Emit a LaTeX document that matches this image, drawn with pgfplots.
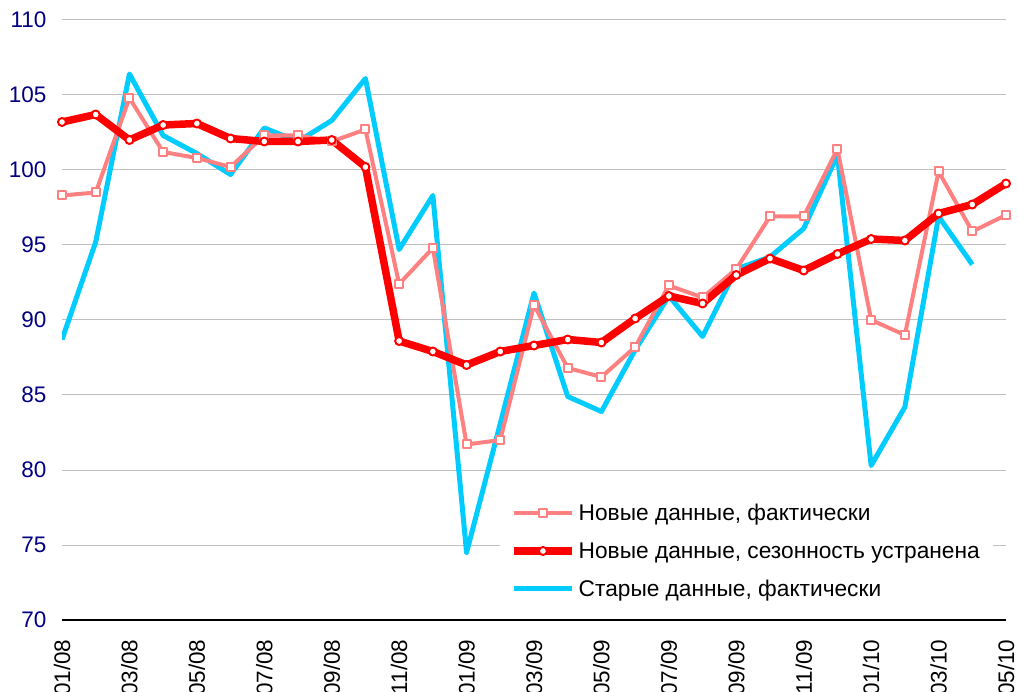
\documentclass[border=0pt]{standalone}
\usepackage{fontspec}
\setmainfont{Liberation Sans}
\usepackage{pgfplots}
\pgfplotsset{compat=1.18}
\definecolor{cpink}{RGB}{255,128,128}
\definecolor{cred}{RGB}{255,0,0}
\definecolor{ccyan}{RGB}{0,204,255}
\definecolor{cnavy}{RGB}{0,0,128}
\definecolor{cgrid}{RGB}{192,192,192}
\begin{document}
\begin{tikzpicture}
\begin{axis}[
 at={(0,0)}, anchor=south west,
 scale only axis, width=944bp, height=600bp,
 xmin=0, xmax=28, ymin=70, ymax=110,
 ytick={70,75,...,110},
 xtick={0,2,...,28},
 xticklabels={01/08,03/08,05/08,07/08,09/08,11/08,01/09,03/09,05/09,07/09,09/09,11/09,01/10,03/10,05/10},
 major tick length=0pt,
 axis line style={draw=none},
 ymajorgrids, grid style={cgrid, line width=1bp},
 /pgf/number format/assume math mode=true,
 tick label style={font=\fontsize{22.5bp}{27bp}\selectfont},
 y tick label style={text=cnavy},
 yticklabel shift=12bp,
 x tick label style={rotate=90, anchor=east},
 xticklabel shift=16bp,
 legend style={at={(0.464,0.207)}, anchor=north west, draw=none, fill=white,
   font=\fontsize{22.7bp}{27bp}\selectfont, row sep=16.5bp, inner xsep=10bp, inner ysep=6bp,
   nodes={inner xsep=3bp}},
 legend cell align=left,
 legend image code/.code={\draw[mark repeat=2,mark phase=2,#1] plot coordinates {(0bp,0bp) (29bp,0bp) (58bp,0bp)};},
 line join=round,
]
\addlegendimage{cpink, line width=4bp, mark=square*, mark size=4bp, mark options={fill=white, draw=cpink, line width=2bp, solid}}
\addlegendentry{Новые данные, фактически}
\addlegendimage{cred, line width=7.5bp, mark=*, mark size=4bp, mark options={fill=white, draw=cred, line width=2bp, solid}}
\addlegendentry{Новые данные, сезонность устранена}
\addlegendimage{ccyan, line width=5bp}
\addlegendentry{Старые данные, фактически}

\addplot[forget plot, ccyan, line width=5bp] coordinates {
(0,88.7) (1,95.2) (2,106.4) (3,102.3) (4,101.1) (5,99.7) (6,102.8) (7,101.9) (8,103.3) (9,106.1)
(10,94.7) (11,98.3) (12,74.5) (13,83.1) (14,91.8) (15,84.9) (16,83.9) (17,88.0) (18,91.6) (19,88.9)
(20,93.4) (21,94.2) (22,96.1) (23,101.0) (24,80.3) (25,84.2) (26,96.9) (27,93.7)};

\addplot[forget plot, cpink, line width=4bp, mark=square*, mark size=4bp, mark options={fill=white, draw=cpink, line width=2bp, solid}] coordinates {
(0,98.3) (1,98.5) (2,104.8) (3,101.2) (4,100.8) (5,100.2) (6,102.3) (7,102.3) (8,101.9) (9,102.7)
(10,92.4) (11,94.8) (12,81.7) (13,82.0) (14,91.0) (15,86.8) (16,86.2) (17,88.2) (18,92.3) (19,91.5)
(20,93.4) (21,96.9) (22,96.9) (23,101.4) (24,90.0) (25,89.0) (26,99.9) (27,95.9) (28,97.0)};

\addplot[forget plot, cred, line width=7.5bp, mark=*, mark size=4bp, mark options={fill=white, draw=cred, line width=2bp, solid}] coordinates {
(0,103.2) (1,103.7) (2,102.0) (3,103.0) (4,103.1) (5,102.1) (6,101.9) (7,101.9) (8,102.0) (9,100.2)
(10,88.6) (11,87.9) (12,87.0) (13,87.9) (14,88.3) (15,88.7) (16,88.5) (17,90.1) (18,91.6) (19,91.1)
(20,93.0) (21,94.1) (22,93.3) (23,94.4) (24,95.4) (25,95.3) (26,97.1) (27,97.7) (28,99.1)};

\draw[black, line width=3bp] (axis cs:0,70) -- (axis cs:28,70);
\end{axis}
\pgfresetboundingbox
\useasboundingbox (-62bp,-72bp) rectangle (956bp,620bp);
\end{tikzpicture}
\end{document}
